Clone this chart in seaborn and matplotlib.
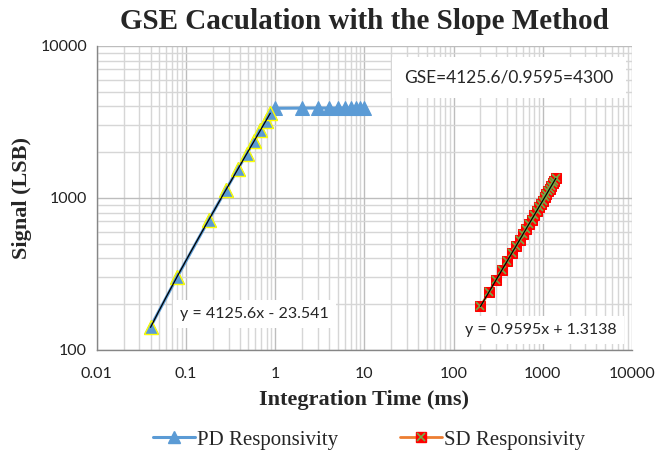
import numpy as np
import pandas as pd
import matplotlib
matplotlib.use("Agg")
import matplotlib.pyplot as plt
from matplotlib.lines import Line2D
from matplotlib.ticker import LogLocator, FixedLocator, NullFormatter
import seaborn as sns

sns.set_theme(style="white")
plt.rcParams["font.family"] = ["Lato", "DejaVu Sans"]

# PD responsivity: linear region (fit) + saturated plateau
pd_lin_time = [0.04, 0.08, 0.18, 0.28, 0.38, 0.48, 0.58, 0.68, 0.78, 0.88]
pd_lin_signal = [142, 304, 718, 1131, 1545, 1958, 2370, 2782, 3195, 3607]
pd_sat_time = [1, 2, 3, 4, 5, 6, 7, 8, 9, 10]
pd_sat_signal = [3890, 3900, 3905, 3900, 3900, 3905, 3900, 3900, 3905, 3900]

# SD responsivity
sd_time = [200, 250, 300, 350, 400, 450, 500, 550, 600, 650, 700, 750, 800,
           850, 900, 950, 1000, 1050, 1100, 1150, 1200, 1250, 1300, 1350, 1400]
sd_signal = [193, 241, 290, 337, 385, 433, 481, 529, 577, 625, 673, 721, 769,
             817, 865, 913, 961, 1009, 1057, 1105, 1153, 1201, 1249, 1297, 1345]

x_ticks = [0.01, 0.1, 1, 10, 100, 1000, 10000]
x_ticklabels = ["0.01", "0.1", "1", "10", "100", "1000", "10000"]
y_ticks = [100, 1000, 10000]
y_ticklabels = ["100", "1000", "10000"]

title = "GSE Caculation with the Slope Method"
gse_text = "GSE=4125.6/0.9595=4300"
pd_eq = "y = 4125.6x - 23.541"
sd_eq = "y = 0.9595x + 1.3138"

BLUE = "#5B9BD5"
ORANGE = "#ED7D31"
SERIF = ["Liberation Serif", "DejaVu Serif"]

pd_df = pd.DataFrame({"time": pd_lin_time + pd_sat_time,
                      "signal": pd_lin_signal + pd_sat_signal})
sd_df = pd.DataFrame({"time": sd_time, "signal": sd_signal})

fig = plt.figure(figsize=(6.59, 4.55), dpi=100)
ax = fig.add_axes([0.147, 0.231, 0.812, 0.668])
ax.set_xscale("log")
ax.set_yscale("log")

# PD series
sns.lineplot(data=pd_df, x="time", y="signal", ax=ax, color=BLUE, linewidth=2.2,
             marker="^", markersize=9.5, markeredgecolor=BLUE, sort=False,
             zorder=3)
ax.plot(pd_lin_time, pd_lin_signal, linestyle="none", marker="^",
        markersize=9.5, markerfacecolor=BLUE, markeredgecolor="#FFFF00",
        markeredgewidth=1.0, zorder=4)
k1, b1 = np.polyfit(pd_lin_time, pd_lin_signal, 1)
tx = np.linspace(pd_lin_time[0], pd_lin_time[-1], 200)
ax.plot(tx, k1 * tx + b1, color="black", linewidth=0.9, zorder=5)

# SD series
sns.lineplot(data=sd_df, x="time", y="signal", ax=ax, color=ORANGE, linewidth=2,
             marker="s", markersize=7.5, markerfacecolor="#FF0000",
             markeredgecolor="#FF0000", sort=False, zorder=3)
ax.plot(sd_time, sd_signal, linestyle="none", marker="x", markersize=5.5,
        markeredgecolor="#70AD47", markeredgewidth=1.2, zorder=4)
k2, b2 = np.polyfit(sd_time, sd_signal, 1)
sx = np.linspace(sd_time[0], sd_time[-1], 200)
ax.plot(sx, k2 * sx + b2, color="black", linewidth=0.9, zorder=5)

ax.set_xlim(x_ticks[0], x_ticks[-1])
ax.set_ylim(y_ticks[0], y_ticks[-1])
ax.xaxis.set_major_locator(FixedLocator(x_ticks))
ax.yaxis.set_major_locator(FixedLocator(y_ticks))
ax.set_xticklabels(x_ticklabels)
ax.set_yticklabels(y_ticklabels)
ax.xaxis.set_minor_locator(LogLocator(base=10, subs=np.arange(2, 10)))
ax.yaxis.set_minor_locator(LogLocator(base=10, subs=np.arange(2, 10)))
ax.xaxis.set_minor_formatter(NullFormatter())
ax.yaxis.set_minor_formatter(NullFormatter())

ax.grid(True, which="minor", color="#D6D6D6", linewidth=1.0, zorder=0)
ax.grid(True, which="major", color="#BDBDBD", linewidth=1.0, zorder=0)
ax.set_axisbelow(True)
for side in ["top", "right"]:
    ax.spines[side].set_visible(False)
for side in ["left", "bottom"]:
    ax.spines[side].set_color("#868686")
    ax.spines[side].set_linewidth(1.0)
ax.tick_params(axis="both", which="major", direction="out", length=4,
               color="#868686", labelsize=11.5, pad=3, labelcolor="#222222")
ax.tick_params(axis="x", which="major", pad=8)
ax.tick_params(axis="both", which="minor", length=0)

ax.set_xlabel("Integration Time (ms)", family=SERIF, fontweight="bold",
              fontsize=16, labelpad=7)
ax.set_ylabel("Signal (LSB)", family=SERIF, fontweight="bold", fontsize=16,
              labelpad=6)
fig.suptitle(title, family=SERIF, fontweight="bold", fontsize=21, x=0.553,
             y=0.983)

box = dict(facecolor="white", edgecolor="none", pad=5)
ax.text(0.77, 0.895, gse_text, transform=ax.transAxes, ha="center",
        va="center", fontsize=12.5, bbox=dict(facecolor="white",
        edgecolor="none", pad=9), zorder=6)
ax.text(0.295, 0.118, pd_eq, transform=ax.transAxes, ha="center", va="center",
        fontsize=11.5, bbox=box, zorder=6)
ax.text(0.83, 0.066, sd_eq, transform=ax.transAxes, ha="center", va="center",
        fontsize=11.5, bbox=box, zorder=6)

h_pd = Line2D([], [], color=BLUE, linewidth=2.2, marker="^", markersize=9)
h_sd = (Line2D([], [], color=ORANGE, linewidth=2, marker="s", markersize=7.5,
               markerfacecolor="#FF0000", markeredgecolor="#FF0000"),
        Line2D([], [], linestyle="none", marker="x", markersize=5.5,
               markeredgecolor="#70AD47", markeredgewidth=1.2))
fig.legend([h_pd, h_sd], ["PD Responsivity", "SD Responsivity"],
           loc="center", bbox_to_anchor=(0.56, 0.033), ncol=2, frameon=False,
           prop={"family": SERIF, "size": 15}, columnspacing=3.0,
           handlelength=2.0, handletextpad=0.1)

fig.savefig("out.png", dpi=100)
